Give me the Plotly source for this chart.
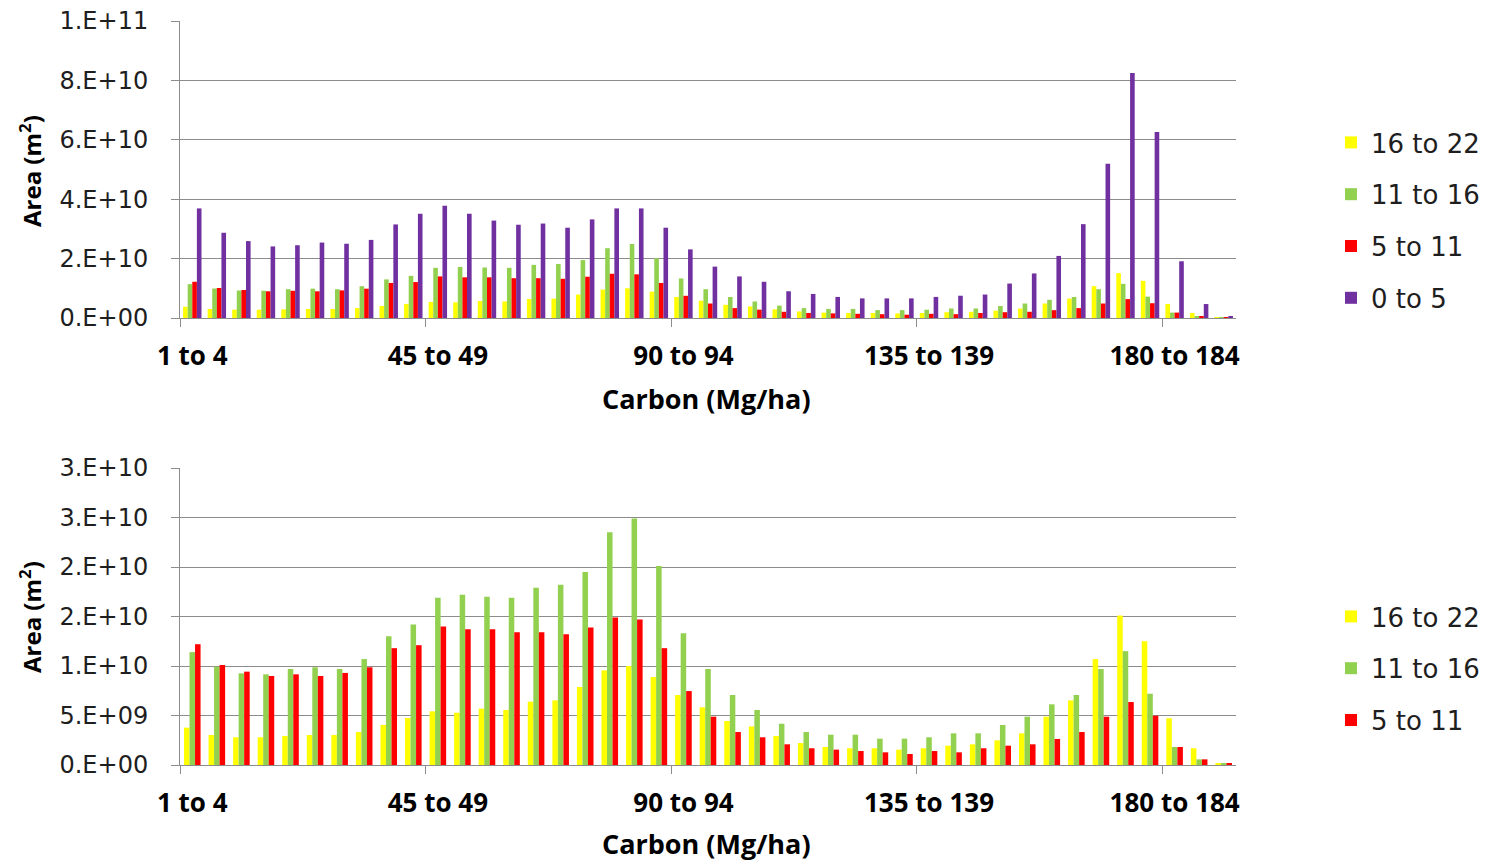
import plotly.graph_objects as go

# ---------------- data ----------------
categories = [
    "1 to 4", "5 to 8", "9 to 13", "14 to 17", "18 to 22", "23 to 26", "27 to 31",
    "32 to 35", "36 to 40", "41 to 44", "45 to 49", "50 to 53", "54 to 58", "59 to 62",
    "63 to 67", "68 to 71", "72 to 76", "77 to 80", "81 to 85", "86 to 89", "90 to 94",
    "95 to 98", "99 to 103", "104 to 107", "108 to 112", "113 to 116", "117 to 121",
    "122 to 125", "126 to 130", "131 to 134", "135 to 139", "140 to 143", "144 to 148",
    "149 to 152", "153 to 157", "158 to 161", "162 to 166", "167 to 170", "171 to 175",
    "176 to 179", "180 to 184", "185 to 188", "189 to 193",
]
x_tick_labels = ["1 to 4", "45 to 49", "90 to 94", "135 to 139", "180 to 184"]

yellow_16_22 = [
    3.77e9, 3.03e9, 2.80e9, 2.80e9, 2.93e9, 3.03e9, 3.03e9, 3.33e9, 4.04e9, 4.75e9,
    5.42e9, 5.28e9, 5.69e9, 5.56e9, 6.40e9, 6.53e9, 7.88e9, 9.56e9, 1.00e10, 8.89e9,
    7.07e9, 5.83e9, 4.44e9, 3.90e9, 2.93e9, 2.22e9, 1.82e9, 1.69e9, 1.69e9, 1.55e9,
    1.69e9, 1.95e9, 2.09e9, 2.49e9, 3.20e9, 4.88e9, 6.53e9, 1.07e10, 1.51e10, 1.25e10,
    4.72e9, 1.69e9, 1.7e8,
]
green_11_16 = [
    1.14e10, 9.93e9, 9.26e9, 9.16e9, 9.70e9, 9.87e9, 9.70e9, 1.07e10, 1.30e10, 1.42e10,
    1.69e10, 1.72e10, 1.70e10, 1.69e10, 1.79e10, 1.82e10, 1.95e10, 2.35e10, 2.49e10, 2.01e10,
    1.33e10, 9.70e9, 7.07e9, 5.56e9, 4.17e9, 3.33e9, 3.06e9, 3.06e9, 2.66e9, 2.66e9,
    2.80e9, 3.20e9, 3.20e9, 4.04e9, 4.88e9, 6.13e9, 7.07e9, 9.70e9, 1.15e10, 7.20e9,
    1.82e9, 5.7e8, 1.7e8,
]
red_5_11 = [
    1.22e10, 1.01e10, 9.43e9, 8.99e9, 9.16e9, 8.99e9, 9.30e9, 9.87e9, 1.18e10, 1.21e10,
    1.40e10, 1.37e10, 1.37e10, 1.34e10, 1.34e10, 1.32e10, 1.39e10, 1.49e10, 1.47e10, 1.18e10,
    7.47e9, 4.88e9, 3.33e9, 2.80e9, 2.09e9, 1.69e9, 1.55e9, 1.41e9, 1.28e9, 1.11e9,
    1.41e9, 1.28e9, 1.69e9, 1.95e9, 2.09e9, 2.63e9, 3.33e9, 4.88e9, 6.36e9, 4.98e9,
    1.82e9, 5.7e8, 2.0e8,
]
purple_0_5 = [
    3.69e10, 2.87e10, 2.59e10, 2.41e10, 2.45e10, 2.54e10, 2.50e10, 2.63e10, 3.15e10, 3.51e10,
    3.78e10, 3.51e10, 3.28e10, 3.14e10, 3.18e10, 3.04e10, 3.32e10, 3.69e10, 3.69e10, 3.04e10,
    2.31e10, 1.73e10, 1.40e10, 1.22e10, 9.0e9, 8.1e9, 7.1e9, 6.6e9, 6.6e9, 6.6e9,
    7.1e9, 7.5e9, 7.9e9, 1.16e10, 1.50e10, 2.09e10, 3.16e10, 5.19e10, 8.25e10, 6.26e10,
    1.91e10, 4.7e9, 5.8e8,
]

series_names = ["16 to 22", "11 to 16", "5 to 11", "0 to 5"]

top_y_tickvals = [0, 2e10, 4e10, 6e10, 8e10, 1e11]
top_y_ticktext = ["0.E+00", "2.E+10", "4.E+10", "6.E+10", "8.E+10", "1.E+11"]
bot_y_tickvals = [0, 5e9, 1e10, 1.5e10, 2e10, 2.5e10, 3e10]
bot_y_ticktext = ["0.E+00", "5.E+09", "1.E+10", "2.E+10", "2.E+10", "3.E+10", "3.E+10"]

# ---------------- styling ----------------
colors = ["#FFFF00", "#92D050", "#FF0000", "#7030A0"]
GRID = "#8c8c8c"
TXT = "#1e1e1e"
OFF = 8                      # page body margin
W, H = 1491 - OFF, 862 - OFF  # figure fills the window from the body margin


def px(xp):
    return (xp - OFF) / W


def py(yp):
    return 1 - (yp - OFF) / H


x_pos = list(range(len(categories)))
x_tick_pos = [categories.index(l) for l in x_tick_labels]
x_boundaries = [p - 0.5 for p in x_tick_pos]

fig = go.Figure()

top_series = [yellow_16_22, green_11_16, red_5_11, purple_0_5]
bw_top = 0.1875
for k, (name, vals) in enumerate(zip(series_names, top_series)):
    fig.add_trace(go.Bar(
        x=x_pos, y=vals, name=name, marker=dict(color=colors[k], line=dict(width=0)),
        width=bw_top, offset=-2 * bw_top + k * bw_top,
        xaxis="x", yaxis="y", legend="legend", legendgroup="top" + name,
    ))

bot_series = [yellow_16_22, green_11_16, red_5_11]
bw_bot = 0.225
for k, (name, vals) in enumerate(zip(series_names[:3], bot_series)):
    fig.add_trace(go.Bar(
        x=x_pos, y=vals, name=name, marker=dict(color=colors[k], line=dict(width=0)),
        width=bw_bot, offset=-1.5 * bw_bot + k * bw_bot,
        xaxis="x2", yaxis="y2", legend="legend2", legendgroup="bot" + name,
    ))

xdom = [px(180), px(1236)]
top_dom = [py(318), py(21)]
bot_dom = [py(765), py(468)]


def xaxis_cfg(anchor):
    return dict(
        domain=xdom, anchor=anchor, range=[-0.5, len(categories) - 0.5],
        automargin=False, ticklabeloverflow="allow",
        showgrid=False, zeroline=False, showline=True, linecolor=GRID, linewidth=1,
        tickmode="array", tickvals=x_tick_pos, ticktext=x_tick_labels,
        ticks="", ticklabelstandoff=15,
        tickfont=dict(family="Open Sans", size=26, color="#000", weight="bold"),
        minor=dict(tickmode="array", tickvals=x_boundaries, ticks="outside",
                   ticklen=8, tickcolor=GRID, tickwidth=1, showgrid=False),
        fixedrange=True,
    )


def yaxis_cfg(anchor, dom, rng, tv, tt):
    return dict(
        domain=dom, anchor=anchor, range=rng, automargin=False,
        ticklabeloverflow="allow",
        showgrid=True, gridcolor=GRID, gridwidth=1, zeroline=False,
        showline=True, linecolor=GRID, linewidth=1,
        tickmode="array", tickvals=tv, ticktext=tt,
        ticks="outside", ticklen=8, tickcolor=GRID, tickwidth=1,
        ticklabelstandoff=18,
        tickfont=dict(family="DejaVu Sans", size=24, color=TXT),
        fixedrange=True,
    )


legend_common = dict(
    xanchor="left", yanchor="top", x=px(1331),
    font=dict(family="DejaVu Sans", size=26, color=TXT),
    bgcolor="rgba(0,0,0,0)", tracegroupgap=15, traceorder="grouped",
)

fig.update_layout(
    width=W, height=H,
    margin=dict(l=0, r=0, t=0, b=0, autoexpand=False),
    paper_bgcolor="white", plot_bgcolor="white",
    barmode="overlay",
    xaxis=xaxis_cfg("y"),
    yaxis=yaxis_cfg("x", top_dom, [0, top_y_tickvals[-1]], top_y_tickvals, top_y_ticktext),
    xaxis2=xaxis_cfg("y2"),
    yaxis2=yaxis_cfg("x2", bot_dom, [0, bot_y_tickvals[-1]], bot_y_tickvals, bot_y_ticktext),
    legend=dict(legend_common, y=py(119)),
    legend2=dict(legend_common, y=py(593)),
    showlegend=True,
)

title_font = dict(family="Open Sans", size=27, color="#000", weight="bold")
ytitle_font = dict(family="Open Sans", size=24, color="#000", weight="bold")
for yc in [398, 843]:
    fig.add_annotation(text="Carbon (Mg/ha)", xref="paper", yref="paper",
                       x=px(706), y=py(yc), showarrow=False,
                       xanchor="center", yanchor="middle", font=title_font)
for yc in [171, 617]:
    fig.add_annotation(text="Area (m<sup>2</sup>)", xref="paper", yref="paper",
                       x=px(30), y=py(yc), showarrow=False, textangle=-90,
                       xanchor="center", yanchor="middle", font=ytitle_font)

fig.write_html("out.html")
